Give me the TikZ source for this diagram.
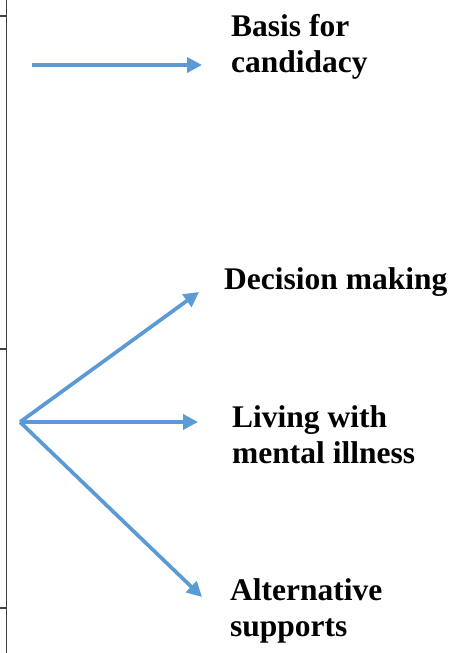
\documentclass[tikz,border=0pt]{standalone}
\usepackage{fontspec}
\setmainfont{Liberation Serif}
\usetikzlibrary{arrows.meta}
\definecolor{arrowblue}{HTML}{5B9BD5}
\definecolor{rulegrey}{HTML}{404040}
\begin{document}
\begin{tikzpicture}[x=1pt,y=-1pt,
  flow/.style={draw=arrowblue,line width=3.7pt,-{Triangle[length=15pt,width=15pt]}},
  label/.style={inner sep=0pt,anchor=base west,align=left,
    font=\fontsize{31.5}{35.5}\selectfont\bfseries},
  frame/.style={draw=rulegrey,line width=1.7pt}]
\useasboundingbox (0,0) rectangle (461,653);
% left frame edge with row separators
\draw[frame] (6.5,0) -- (6.5,653);
\draw[frame] (0,16) -- (6.5,16);
\draw[frame] (0,349) -- (6.5,349);
\draw[frame] (0,608) -- (6.5,608);
% labels (anchored at the baseline of their last line)
\node[label] (basis) at (231,72) {Basis for\\candidacy};
\node[label] (decision) at (224,289) {Decision making};
\node[label] (living) at (232,463) {Living with\\mental illness};
\node[label] (alt) at (230,636) {Alternative\\supports};
% arrow ends
\coordinate (s1) at (32,65);
\coordinate (t1) at (202,65);
\coordinate (hub) at (20,422);
\coordinate (t2) at (199,292);
\coordinate (t3) at (198,422);
\coordinate (t4) at (202,597);
\draw[flow] (s1) -- (t1);
\draw[flow] (hub) -- (t2);
\draw[flow] (hub) -- (t3);
\draw[flow] (hub) -- (t4);
\end{tikzpicture}
\end{document}
